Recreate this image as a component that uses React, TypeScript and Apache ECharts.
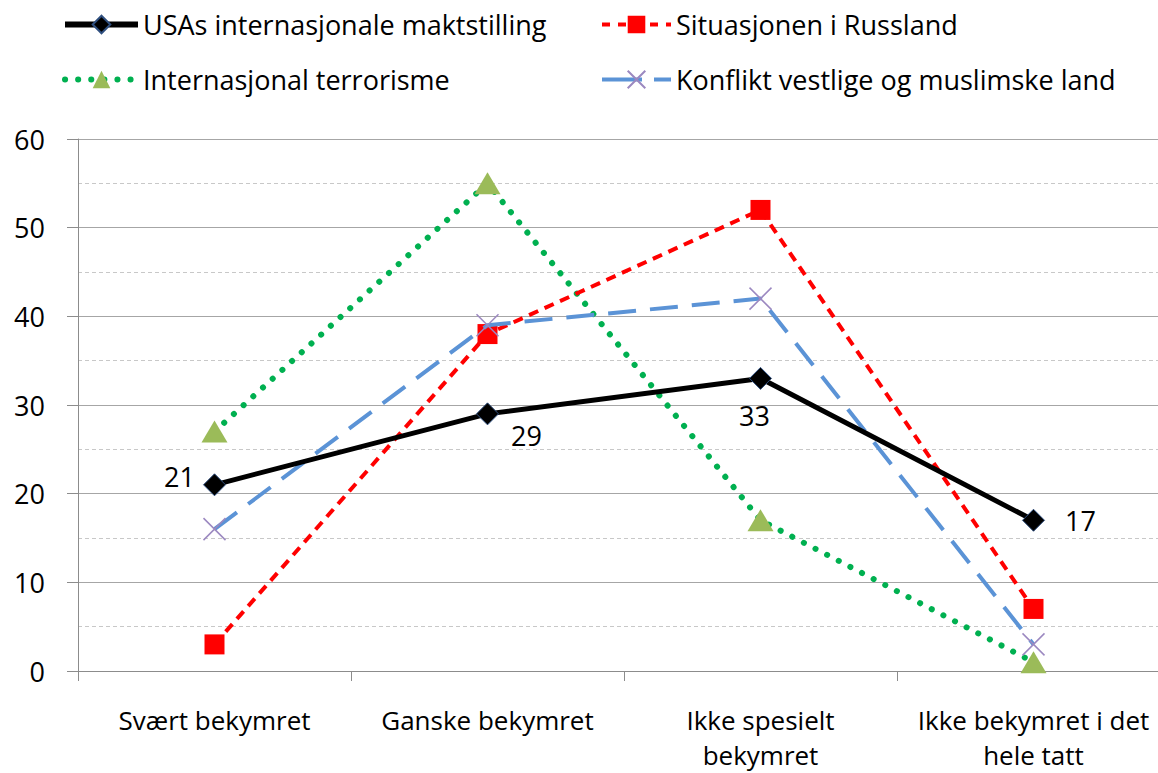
import React, { useEffect, useRef } from "react";
import * as echarts from "echarts";

const categories = ["Svært bekymret", "Ganske bekymret", "Ikke spesielt\nbekymret", "Ikke bekymret i det\nhele tatt"];
const usa = [21, 29, 33, 17];
const russland = [3, 38, 52, 7];
const terror = [27, 55, 17, 1];
const konflikt = [16, 39, 42, 3];
const seriesNames = [
  "USAs internasjonale maktstilling",
  "Situasjonen i Russland",
  "Internasjonal terrorisme",
  "Konflikt vestlige og muslimske land",
];

const FONT = "Open Sans";

export default function App() {
  const ref = useRef<HTMLDivElement>(null);
  useEffect(() => {
    if (!ref.current) return;
    const chart = echarts.init(ref.current, null, { renderer: "svg" });
    const legendText = { fontFamily: FONT, fontSize: 27, color: "#000" };
    const styles: any[] = [
      { color: "#000", width: 6, type: "solid" },
      { color: "#FF0000", width: 4, type: [8, 8] },
      { color: "#00B050", width: 6, type: [0.1, 13], cap: "round" },
      { color: "#5B93D6", width: 4, type: [40, 12] },
    ];
    const mkLegend = (i: number, left: number, top: number, w: number) => ({
      data: [{ name: seriesNames[i], lineStyle: styles[i] }],
      left,
      top,
      itemWidth: w,
      itemHeight: 22,
      itemGap: 0,
      padding: 0,
      textStyle: legendText,
      selectedMode: false,
    });
    chart.setOption({
      animation: false,
      legend: [
        mkLegend(0, 62, 11, 73),
        mkLegend(1, 600, 11, 69),
        mkLegend(2, 62, 66, 73),
        mkLegend(3, 600, 66, 69),
      ],
      grid: { left: 78, top: 139, bottom: 102, right: 0, outerBoundsMode: "none", containLabel: false },
      xAxis: {
        type: "category",
        data: categories,
        boundaryGap: true,
        axisLine: { lineStyle: { color: "#8C8C8C", width: 1 } },
        axisTick: { show: true, length: 10, lineStyle: { color: "#8C8C8C" } },
        axisLabel: { fontFamily: FONT, fontSize: 26, color: "#000", margin: 31, lineHeight: 35, interval: 0 },
      },
      yAxis: {
        type: "value",
        min: 0,
        max: 60,
        interval: 10,
        axisLine: { show: true, lineStyle: { color: "#8C8C8C", width: 1 } },
        axisTick: { show: true, length: 11, lineStyle: { color: "#8C8C8C" } },
        axisLabel: { fontFamily: FONT, fontSize: 27, color: "#000", margin: 33 },
        splitLine: { lineStyle: { color: "#A6A6A6", width: 1 } },
        minorTick: { show: false, splitNumber: 2 },
        minorSplitLine: { show: true, lineStyle: { color: "#C8C8C8", type: [4, 3], width: 1 } },
      },
      series: [
        {
          name: seriesNames[0],
          type: "line",
          z: 5,
          symbol: "diamond",
          symbolSize: 22,
          lineStyle: { color: "#000", width: 5 },
          itemStyle: { color: "#000", borderColor: "#2F4F7F", borderWidth: 1 },
          label: {
            show: true,
            fontFamily: FONT,
            fontSize: 27,
            color: "#000",
          },
          data: usa.map((v, i) => ({
            value: v,
            label:
              i === 0
                ? { position: "left", distance: 8, offset: [0, -8] }
                : i === 1
                ? { position: "right", distance: 12, offset: [0, 22] }
                : i === 2
                ? { position: "bottom", distance: 12, offset: [-6, 0] }
                : { position: "right", distance: 20, offset: [0, 0] },
          })),
        },
        {
          name: seriesNames[1],
          type: "line",
          data: russland,
          z: 3,
          symbol: "rect",
          symbolSize: 20,
          lineStyle: { color: "#FF0000", width: 4, type: [10, 7] },
          itemStyle: { color: "#FF0000" },
        },
        {
          name: seriesNames[2],
          type: "line",
          data: terror,
          z: 2,
          symbol: "triangle",
          symbolSize: [26, 22],
          lineStyle: styles[2],
          itemStyle: { color: "#9BBB59" },
        },
        {
          name: seriesNames[3],
          type: "line",
          data: konflikt,
          z: 4,
          symbol: "path://M0,0L10,10M10,0L0,10",
          symbolSize: 22,
          lineStyle: { color: "#5B93D6", width: 4, type: [28, 14] },
          itemStyle: { color: "#5B93D6", borderColor: "#9B88C0", borderWidth: 1.5 },
        },
      ],
    });
    return () => chart.dispose();
  }, []);
  return (
    <div style={{ position: "absolute", left: 0, top: 0, width: 1158, height: 773, overflow: "hidden" }}>
      <div ref={ref} style={{ width: 1170, height: 773 }} />
    </div>
  );
}
